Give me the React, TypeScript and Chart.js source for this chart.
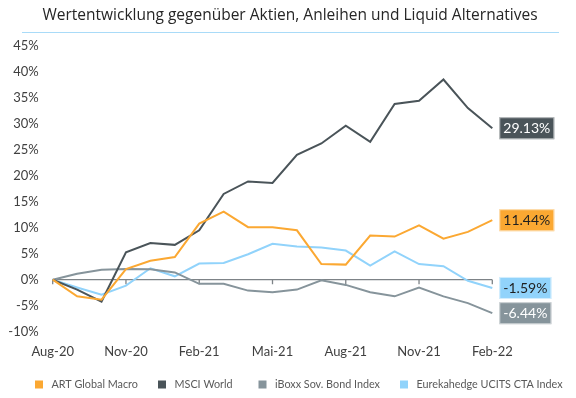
import React, { useEffect, useRef } from "react";
import { Chart, registerables } from "chart.js";

Chart.register(...registerables);

const months = [
  "Aug-20", "Sep-20", "Okt-20", "Nov-20", "Dez-20", "Jan-21", "Feb-21", "Mrz-21", "Apr-21", "Mai-21",
  "Jun-21", "Jul-21", "Aug-21", "Sep-21", "Okt-21", "Nov-21", "Dez-21", "Jan-22", "Feb-22",
];

const artGlobalMacro = [0, -3.2, -3.85, 2.05, 3.65, 4.35, 10.8, 13.1, 10.1, 10.1, 9.5, 3.0, 2.9, 8.5, 8.3, 10.45, 7.9, 9.2, 11.44];
const msciWorld = [0, -1.9, -4.2, 5.25, 7.05, 6.7, 9.5, 16.5, 18.9, 18.6, 24.0, 26.2, 29.6, 26.5, 33.8, 34.4, 38.5, 33.0, 29.13];
const iboxxSovBond = [0, 1.15, 1.9, 2.05, 2.0, 1.4, -0.8, -0.8, -2.1, -2.4, -1.9, -0.1, -1.0, -2.4, -3.2, -1.5, -3.2, -4.5, -6.44];
const eurekahedgeCTA = [0, -1.5, -2.9, -1.15, 2.2, 0.65, 3.1, 3.2, 4.9, 6.9, 6.4, 6.2, 5.6, 2.7, 5.45, 3.0, 2.6, -0.2, -1.59];

const seriesNames = ["ART Global Macro", "MSCI World", "iBoxx Sov. Bond Index", "Eurekahedge UCITS CTA Index"];
const seriesColors = ["#FBA832", "#4A5459", "#86949B", "#91D3FB"];
const labelTextColors = ["#1f1f1f", "#ffffff", "#ffffff", "#1f1f1f"];

const titleText = "Wertentwicklung gegenüber Aktien, Anleihen und Liquid Alternatives";

const FONT = "Lato, 'Open Sans', sans-serif";

const decorPlugin = {
  id: "decor",
  beforeDatasetsDraw(chart: any) {
    const { ctx, chartArea, scales } = chart;
    const y0 = scales.y.getPixelForValue(0);
    ctx.save();
    ctx.strokeStyle = "#7d8387";
    ctx.lineWidth = 1.3;
    ctx.beginPath();
    ctx.moveTo(chartArea.left, y0);
    ctx.lineTo(chartArea.right, y0);
    for (let i = 0; i < months.length; i += 3) {
      const x = scales.x.getPixelForValue(i);
      ctx.moveTo(x, y0);
      ctx.lineTo(x, y0 + 4.5);
    }
    ctx.stroke();
    ctx.restore();
  },
  afterDatasetsDraw(chart: any) {
    const { ctx, chartArea } = chart;
    ctx.save();
    // title
    ctx.fillStyle = "#262626";
    ctx.font = "15.5px 'Open Sans', sans-serif";
    ctx.textAlign = "center";
    ctx.textBaseline = "middle";
    ctx.fillText(titleText, 290, 16);
    ctx.strokeStyle = "#A9DBF8";
    ctx.lineWidth = 1.2;
    ctx.beginPath();
    ctx.moveTo(22, 32.5);
    ctx.lineTo(559, 32.5);
    ctx.stroke();

    // end labels
    ctx.font = "14px " + FONT;
    chart.data.datasets.forEach((ds: any, i: number) => {
      const meta = chart.getDatasetMeta(i);
      const pt = meta.data[meta.data.length - 1];
      const v = ds.data[ds.data.length - 1];
      const txt = v.toFixed(2) + "%";
      const w = ctx.measureText(txt).width + 8;
      const h = 22;
      const x = chartArea.right + 7;
      const y = pt.y - h / 2;
      ctx.fillStyle = seriesColors[i];
      ctx.fillRect(x, y, w, h);
      ctx.strokeStyle = "rgba(255,255,255,0.6)";
      ctx.lineWidth = 1;
      ctx.strokeRect(x + 0.5, y + 0.5, w - 1, h - 1);
      ctx.fillStyle = labelTextColors[i];
      ctx.textAlign = "left";
      ctx.textBaseline = "middle";
      ctx.fillText(txt, x + 4, pt.y + 0.5);
    });

    // legend
    const legendX = [35, 158, 258.5, 400];
    const ly = 384.5;
    ctx.font = "10.8px " + FONT;
    seriesNames.forEach((name, i) => {
      ctx.fillStyle = seriesColors[i];
      ctx.fillRect(legendX[i], ly - 4, 8, 8);
      ctx.fillStyle = "#595959";
      ctx.textAlign = "left";
      ctx.textBaseline = "middle";
      ctx.fillText(name, legendX[i] + 16.5, ly);
    });
    ctx.restore();
  },
};

export default function App() {
  const ref = useRef<HTMLCanvasElement | null>(null);
  useEffect(() => {
    document.body.style.margin = "0";
    const canvas = ref.current;
    if (!canvas) return;
    const dataSets = [artGlobalMacro, msciWorld, iboxxSovBond, eurekahedgeCTA];
    const chart = new Chart(canvas, {
      type: "line",
      data: {
        labels: months,
        datasets: dataSets.map((d, i) => ({
          label: seriesNames[i],
          data: d,
          borderColor: seriesColors[i],
          backgroundColor: seriesColors[i],
          borderWidth: 2,
          pointRadius: 0,
          tension: 0,
          fill: false,
        })),
      },
      options: {
        animation: false,
        responsive: false,
        maintainAspectRatio: false,
        layout: { padding: { top: 45.7, right: 83.7, bottom: 0, left: 0 } },
        plugins: {
          legend: { display: false },
          title: { display: false },
          tooltip: { enabled: false },
        },
        scales: {
          x: {
            type: "category",
            offset: false,
            grid: { display: false, drawTicks: false },
            border: { display: false },
            ticks: {
              autoSkip: false,
              maxRotation: 0,
              padding: 12.5,
              color: "#404040",
              font: { family: FONT, size: 13 },
              callback: (_v: any, i: number) => (i % 3 === 0 ? months[i] : ""),
            },
            afterFit: (s: any) => {
              s.height = 66.3;
            },
          },
          y: {
            min: -10,
            max: 45,
            grid: { display: false, drawTicks: false },
            border: { display: false },
            ticks: {
              stepSize: 5,
              padding: 14,
              color: "#404040",
              font: { family: FONT, size: 13 },
              callback: (v: any) => v + "%",
            },
            afterFit: (s: any) => {
              s.width = 52.7;
            },
          },
        },
      },
      plugins: [decorPlugin],
    });
    return () => chart.destroy();
  }, []);
  return (
    <div style={{ width: 576, height: 398, background: "#fff" }}>
      <canvas ref={ref} width={576} height={398} />
    </div>
  );
}
